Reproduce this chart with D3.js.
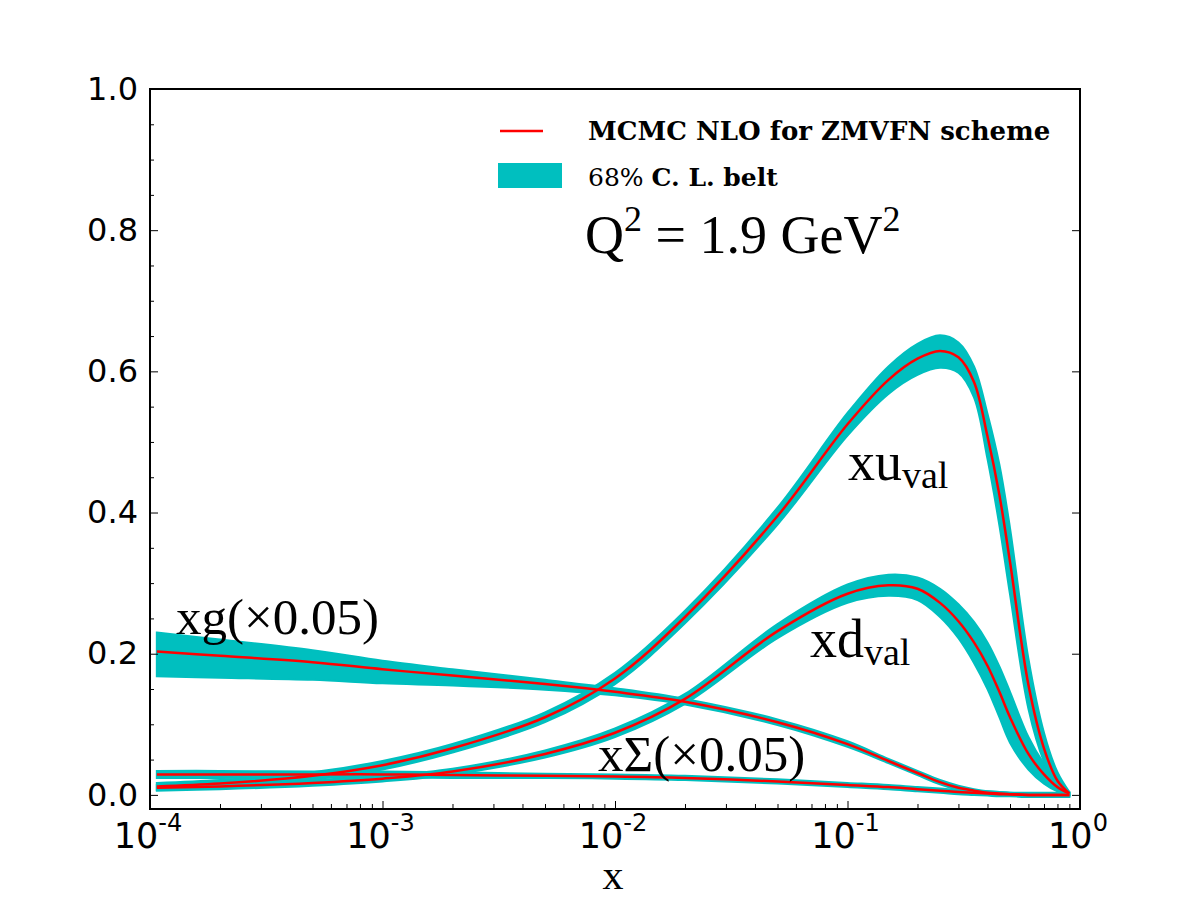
<!DOCTYPE html>
<html>
<head>
<meta charset="utf-8">
<script src="https://cdn.jsdelivr.net/npm/d3@7"></script>
<style>
  body { margin: 0; background: #fff; }
</style>
</head>
<body>
<svg width="1200" height="900"></svg>
<script>
const xs = [1.07e-4, 2e-4, 5e-4, 1e-3, 2e-3, 5e-3, 0.01, 0.02, 0.05, 0.1, 0.15, 0.2, 0.25, 0.3, 0.35, 0.4, 0.45, 0.5, 0.6, 0.7, 0.8, 0.9]

// x u_val
const xuMid = [0.012, 0.016, 0.027, 0.042, 0.066, 0.110, 0.165, 0.252, 0.395, 0.525, 0.588, 0.618, 0.629, 0.620, 0.585, 0.508, 0.425, 0.330, 0.156, 0.066, 0.020, 0.002]
const xuHi  = [0.017, 0.021, 0.032, 0.048, 0.072, 0.117, 0.173, 0.261, 0.407, 0.541, 0.607, 0.639, 0.651, 0.641, 0.607, 0.540, 0.468, 0.378, 0.193, 0.088, 0.032, 0.004]
const xuLo  = [0.007, 0.011, 0.022, 0.036, 0.060, 0.103, 0.157, 0.243, 0.383, 0.509, 0.568, 0.595, 0.605, 0.598, 0.563, 0.476, 0.382, 0.284, 0.122, 0.047, 0.010, 0.000]

// x d_val
const xdMid = [0.010, 0.012, 0.017, 0.023, 0.033, 0.058, 0.088, 0.136, 0.232, 0.285, 0.297, 0.292, 0.272, 0.246, 0.216, 0.183, 0.146, 0.110, 0.058, 0.029, 0.011, 0.002]
const xdHi  = [0.014, 0.016, 0.021, 0.027, 0.037, 0.063, 0.094, 0.143, 0.242, 0.298, 0.312, 0.308, 0.292, 0.270, 0.245, 0.216, 0.182, 0.146, 0.082, 0.044, 0.019, 0.004]
const xdLo  = [0.006, 0.008, 0.013, 0.019, 0.029, 0.053, 0.082, 0.129, 0.222, 0.272, 0.282, 0.276, 0.252, 0.222, 0.187, 0.150, 0.110, 0.074, 0.036, 0.016, 0.005, 0.000]

// x g (x0.05)
const xgMid = [0.203, 0.197, 0.188, 0.178, 0.169, 0.157, 0.146, 0.132, 0.103, 0.072, 0.048, 0.031, 0.018, 0.010, 0.006, 0.003, 0.002, 0.001, 0.000, 0.000, 0.000, 0.000]
const xgHi  = [0.230, 0.220, 0.205, 0.190, 0.178, 0.163, 0.151, 0.136, 0.107, 0.076, 0.051, 0.034, 0.021, 0.013, 0.008, 0.005, 0.004, 0.003, 0.002, 0.002, 0.002, 0.002]
const xgLo  = [0.168, 0.166, 0.163, 0.158, 0.155, 0.149, 0.141, 0.128, 0.099, 0.068, 0.045, 0.028, 0.015, 0.007, 0.003, 0.001, 0.000, -0.001, -0.002, -0.002, -0.002, -0.002]

// x Sigma (x0.05)
const xsMid = [0.029, 0.029, 0.029, 0.029, 0.028, 0.027, 0.026, 0.024, 0.019, 0.014, 0.011, 0.008, 0.006, 0.004, 0.003, 0.002, 0.001, 0.001, 0.000, 0.000, 0.000, 0.000]
const xsHi  = [0.034, 0.034, 0.033, 0.033, 0.032, 0.030, 0.029, 0.027, 0.022, 0.017, 0.014, 0.011, 0.009, 0.007, 0.006, 0.005, 0.004, 0.003, 0.003, 0.003, 0.003, 0.003]
const xsLo  = [0.024, 0.024, 0.025, 0.025, 0.024, 0.024, 0.023, 0.021, 0.016, 0.011, 0.008, 0.005, 0.003, 0.001, 0.000, -0.001, -0.002, -0.002, -0.003, -0.003, -0.003, -0.003]

const yMajor = [0, 0.2, 0.4, 0.6, 0.8, 1.0]
const xMajor = [1e-4, 1e-3, 1e-2, 1e-1, 1]
const xMajorExp = ["-4", "-3", "-2", "-1", "0"]

const svg = d3.select("svg")
const box = {left: 150, right: 1080, top: 89, bottom: 809}

const x = d3.scaleLog().domain([1e-4, 1]).range([box.left, box.right])
const y = d3.scaleLinear().domain([-0.02, 1.0]).range([box.bottom, box.top])

const CYAN = "#00bfbf"
const RED = "#ff0000"

svg.append("defs").append("clipPath").attr("id", "plot")
  .append("rect").attr("x", box.left).attr("y", box.top)
  .attr("width", box.right - box.left).attr("height", box.bottom - box.top)

const rows = (mid, lo, hi) => xs.map((v, i) => ({x: v, mid: mid[i], lo: lo[i], hi: hi[i]}))
const series = [
  rows(xgMid, xgLo, xgHi),
  rows(xsMid, xsLo, xsHi),
  rows(xdMid, xdLo, xdHi),
  rows(xuMid, xuLo, xuHi)
]

const smooth = d3.curveCatmullRom.alpha(0.5)

const area = d3.area()
  .x(d => x(d.x))
  .y0(d => y(d.lo))
  .y1(d => y(d.hi))
  .curve(smooth)

const line = d3.line()
  .x(d => x(d.x))
  .y(d => y(d.mid))
  .curve(smooth)

const g = svg.append("g").attr("clip-path", "url(#plot)")

g.selectAll(".band").data(series).enter().append("path")
  .attr("class", "band")
  .attr("d", area)
  .attr("fill", CYAN)
  .attr("stroke", CYAN)
  .attr("stroke-width", 2)

g.selectAll(".mid").data(series).enter().append("path")
  .attr("class", "mid")
  .attr("d", line)
  .attr("fill", "none")
  .attr("stroke", RED)
  .attr("stroke-width", 2.5)

// axes, ticks pointing inwards
const yMinor = d3.range(0, 1.0001, 0.05).filter(v => Math.abs(v / 0.2 - Math.round(v / 0.2)) > 1e-6)

const yAxis = svg.append("g").attr("transform", `translate(${box.left},0)`)
  .call(d3.axisLeft(y).tickValues(yMajor).tickSize(-8).tickPadding(12).tickFormat(d3.format(".1f")))
svg.append("g").attr("transform", `translate(${box.left},0)`)
  .call(d3.axisLeft(y).tickValues(yMinor).tickSize(-4).tickFormat(""))
svg.append("g").attr("transform", `translate(${box.right},0)`)
  .call(d3.axisRight(y).tickValues(yMajor).tickSize(-8).tickFormat(""))

const xMinor = []
xMajor.slice(0, -1).forEach(d => { for (let k = 2; k <= 9; k++) xMinor.push(d * k) })

svg.append("g").attr("transform", `translate(0,${box.bottom})`)
  .call(d3.axisBottom(x).tickValues(xMajor).tickSize(-8).tickFormat(""))
svg.append("g").attr("transform", `translate(0,${box.bottom})`)
  .call(d3.axisBottom(x).tickValues(xMinor).tickSize(-5).tickFormat(""))

svg.selectAll(".domain").remove()
svg.selectAll(".tick line").attr("stroke", "#000").attr("stroke-width", 1)

yAxis.selectAll("text")
  .attr("font-family", "DejaVu Sans, sans-serif")
  .attr("font-size", 32)
  .attr("fill", "#000")

// x tick labels as 10^k
const xl = svg.append("g")
xMajor.forEach((d, i) => {
  const t = xl.append("text")
    .attr("x", x(d) - 2)
    .attr("y", 848)
    .attr("text-anchor", "middle")
    .attr("font-family", "DejaVu Sans, sans-serif")
    .attr("font-size", 35)
  t.append("tspan").text("10")
  t.append("tspan").attr("dy", -17).attr("font-size", 24).text(xMajorExp[i])
})

// frame
svg.append("rect")
  .attr("x", box.left).attr("y", box.top)
  .attr("width", box.right - box.left).attr("height", box.bottom - box.top)
  .attr("fill", "none").attr("stroke", "#000").attr("stroke-width", 2)

// x label
svg.append("text")
  .attr("x", 613).attr("y", 889)
  .attr("text-anchor", "middle")
  .attr("font-family", "Liberation Serif, serif")
  .attr("font-size", 42)
  .text("x")

// legend
svg.append("line")
  .attr("x1", 500).attr("x2", 543).attr("y1", 131).attr("y2", 131)
  .attr("stroke", RED).attr("stroke-width", 2.5)
svg.append("text")
  .attr("x", 588).attr("y", 140)
  .attr("font-family", "DejaVu Serif, serif")
  .attr("font-weight", "bold")
  .attr("font-size", 26)
  .text("MCMC NLO for ZMVFN scheme")

svg.append("rect")
  .attr("x", 498).attr("y", 163).attr("width", 64).attr("height", 25)
  .attr("fill", CYAN)
const leg2 = svg.append("text")
  .attr("x", 588).attr("y", 186)
  .attr("font-family", "DejaVu Serif, serif")
  .attr("font-size", 25)
leg2.append("tspan").text("68% ")
leg2.append("tspan").attr("font-weight", "bold").text("C. L. belt")

// Q^2 annotation
const q = svg.append("text")
  .attr("x", 585).attr("y", 253)
  .attr("font-family", "Liberation Serif, serif")
  .attr("font-size", 54)
q.append("tspan").text("Q")
q.append("tspan").attr("dy", -22).attr("font-size", 36).text("2")
q.append("tspan").attr("dy", 22).text(" = 1.9 GeV")
q.append("tspan").attr("dy", -22).attr("font-size", 36).text("2")

// curve labels
const labels = [
  {x: 848, y: 480, main: "xu", sub: "val", size: 54},
  {x: 810, y: 657, main: "xd", sub: "val", size: 54},
  {x: 176, y: 634, main: "xg(×0.05)", sub: "", size: 51},
  {x: 598, y: 771, main: "xΣ(×0.05)", sub: "", size: 51}
]
labels.forEach(l => {
  const t = svg.append("text")
    .attr("x", l.x).attr("y", l.y)
    .attr("font-family", "Liberation Serif, serif")
    .attr("font-size", l.size)
  t.append("tspan").text(l.main)
  if (l.sub) t.append("tspan").attr("dy", 8).attr("font-size", 38).text(l.sub)
})
</script>
</body>
</html>
